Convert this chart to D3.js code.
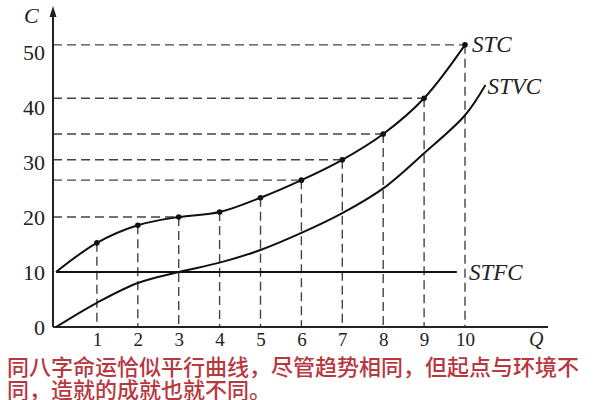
<!DOCTYPE html>
<html>
<head>
<meta charset="utf-8">
<script src="https://cdn.jsdelivr.net/npm/d3@7"></script>
<style>
  body { margin: 0; background: #fff; }
  svg { display: block; }
  .tick text { font-family: "Liberation Serif", "DejaVu Serif", serif; fill: #222; }
</style>
</head>
<body>
<div id="chart"></div>
<script>
// output levels and costs
const qs   = [0, 1, 2, 3, 4, 5, 6, 7, 8, 9, 10];
const stc  = [10, 15.3, 18.5, 20, 20.9, 23.5, 26.7, 30.4, 35.1, 41.6, 51.3];
const stvcQ = [0, 1, 2, 3, 4, 5, 6, 7, 8, 9, 10, 10.5];
const stvc  = [0, 4.4, 8, 10, 11.7, 14, 17.1, 20.7, 25.2, 31.6, 38.5, 44];
const stfc = 10;
const stfcEnd = 9.8;
const yTicks = [0, 10, 20, 30, 40, 50];
const xTicks = [1, 2, 3, 4, 5, 6, 7, 8, 9, 10];
const guideQ = [3, 6, 7, 8, 9, 10];   // horizontal dashed guides to the curve
const caption = ["同八字命运恰似平行曲线，尽管趋势相同，但起点与环境不",
                 "同，造就的成就也就不同。"];

const width = 600, height = 400;
const svg = d3.select("#chart").append("svg")
  .attr("width", width)
  .attr("height", height);

const x = d3.scaleLinear().domain([0, 10]).range([56, 465]);
const y = d3.scaleLinear().domain([0, 50]).range([327, 52]);
const x0 = 53, y0 = 327;

// dashed guide lines
const dash = "9,5";
svg.append("g").selectAll("line")
  .data(guideQ)
  .enter().append("line")
    .attr("x1", x0).attr("x2", d => x(d))
    .attr("y1", d => y(stc[d])).attr("y2", d => y(stc[d]))
    .attr("stroke", "#444").attr("stroke-width", 1.4)
    .attr("stroke-dasharray", dash);

svg.append("g").selectAll("line")
  .data(xTicks)
  .enter().append("line")
    .attr("x1", d => x(d)).attr("x2", d => x(d))
    .attr("y1", d => y(stc[d])).attr("y2", y0)
    .attr("stroke", "#444").attr("stroke-width", 1.4)
    .attr("stroke-dasharray", dash);

// axes
svg.append("line")
  .attr("x1", x0).attr("x2", x0).attr("y1", y0).attr("y2", 12)
  .attr("stroke", "#222").attr("stroke-width", 2);
svg.append("path")
  .attr("d", `M${x0},6 L${x0 - 3.5},17 L${x0 + 3.5},17 Z`)
  .attr("fill", "#222");
svg.append("line")
  .attr("x1", x0).attr("x2", 548).attr("y1", y0).attr("y2", y0)
  .attr("stroke", "#222").attr("stroke-width", 2);

svg.append("g")
  .attr("transform", `translate(${x0},0)`)
  .call(d3.axisLeft(y).tickValues(yTicks).tickSize(0).tickPadding(8))
  .call(g => g.select(".domain").remove())
  .selectAll("text").style("font-size", "22px");

svg.append("g")
  .attr("transform", `translate(0,${y0})`)
  .call(d3.axisBottom(x).tickValues(xTicks).tickSize(0).tickPadding(6))
  .call(g => g.select(".domain").remove())
  .selectAll("text").style("font-size", "19px");

// curves
const line = d3.line().curve(d3.curveCatmullRom.alpha(0.5));

svg.append("line")
  .attr("x1", x(0)).attr("x2", x(stfcEnd))
  .attr("y1", y(stfc)).attr("y2", y(stfc))
  .attr("stroke", "#111").attr("stroke-width", 2);

svg.append("path")
  .attr("d", line(qs.map((q, i) => [x(q), y(stc[i])])))
  .attr("fill", "none").attr("stroke", "#111").attr("stroke-width", 2);

svg.append("path")
  .attr("d", line(stvcQ.map((q, i) => [x(q), y(stvc[i])])))
  .attr("fill", "none").attr("stroke", "#111").attr("stroke-width", 2);

svg.append("g").selectAll("circle")
  .data(xTicks)
  .enter().append("circle")
    .attr("cx", d => x(d)).attr("cy", d => y(stc[d]))
    .attr("r", 2.8).attr("fill", "#111");

// labels
const serif = "'Liberation Serif', 'DejaVu Serif', serif";
const label = (t, lx, ly, size) => svg.append("text")
  .attr("x", lx).attr("y", ly)
  .attr("font-family", serif).attr("font-style", "italic")
  .attr("font-size", size).attr("fill", "#222")
  .text(t);

label("C", 24, 23, 22);
label("STC", x(10) + 7, y(stc[10]) + 7, 23);
label("STVC", x(10.5) + 2, y(44) + 9, 23);
label("STFC", 469, y(stfc) + 8, 23);
label("Q", 529, 346, 20);

svg.append("g").selectAll("text")
  .data(caption)
  .enter().append("text")
    .attr("x", 7)
    .attr("y", (d, i) => 375 + i * 23)
    .attr("font-family", "'Noto Sans CJK SC', sans-serif")
    .attr("font-size", 22)
    .attr("font-weight", 500)
    .attr("fill", "#b8383f")
    .text(d => d);
</script>
</body>
</html>
